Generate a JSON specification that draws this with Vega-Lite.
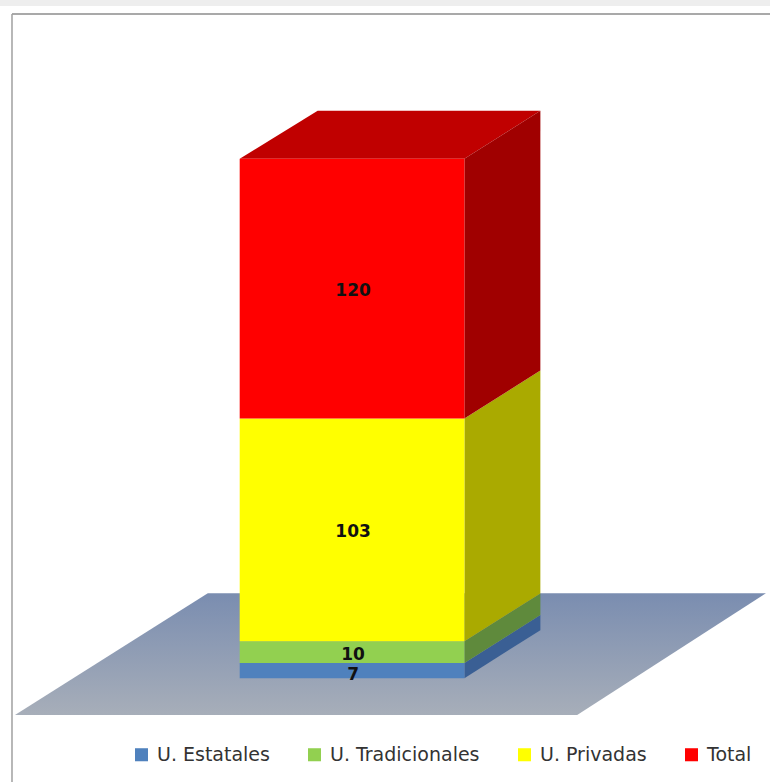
{"$schema":"https://vega.github.io/schema/vega-lite/v6.json","width":771,"height":783,"padding":0,"autosize":{"type":"fit","contains":"padding"},"background":"#ffffff","config":{"view":{"stroke":null}},
"datasets":{
"front":[{"serie":"U. Estatales","valor":7,"base":0,"tope":7,"medio":2.5,"izq":0,"der":1},{"serie":"U. Tradicionales","valor":10,"base":7,"tope":17,"medio":12,"izq":0,"der":1},{"serie":"U. Privadas","valor":103,"base":17,"tope":120,"medio":68.5,"izq":0,"der":1},{"serie":"Total","valor":120,"base":120,"tope":240,"medio":180,"izq":0,"der":1}],
"side":[{"serie":"U. Estatales","h":1,"base":0,"tope":7},{"serie":"U. Estatales","h":1.338,"base":22.15,"tope":29.15},{"serie":"U. Tradicionales","h":1,"base":7,"tope":17},{"serie":"U. Tradicionales","h":1.338,"base":29.15,"tope":39.15},{"serie":"U. Privadas","h":1,"base":17,"tope":120},{"serie":"U. Privadas","h":1.338,"base":39.15,"tope":142.15},{"serie":"Total","h":1,"base":120,"tope":240},{"serie":"Total","h":1.338,"base":142.15,"tope":262.15}],
"top":[{"v":240,"a":0,"b":1},{"v":262.15,"a":0.347,"b":1.338}],
"floor":[{"v":-17,"a":-1,"b":1.502},{"v":39.2,"a":-0.142,"b":2.342}],
"frameTop":[{"a":-1.0133,"b":2.36,"c":306.9}],
"frameLeft":[{"a":-1.0133,"c":-48,"d":306.9}],
"strip":[{"a":-1.0667,"b":2.36,"c":310.6,"d":313.38}]
},
"layer":[
{"data":{"name":"strip"},"mark":{"type":"rect","fill":"#eeeeee"},"encoding":{"x":{"field":"a","type":"quantitative","scale":{"domain":[-1.0667,2.36],"nice":false,"zero":false},"axis":null},"x2":{"field":"b"},"y":{"field":"c","type":"quantitative","scale":{"domain":[-48,313.38],"nice":false,"zero":false},"axis":null},"y2":{"field":"d"}}},
{"data":{"name":"frameTop"},"mark":{"type":"rule","stroke":"#8c8c8c","strokeWidth":1.5},"encoding":{"x":{"field":"a","type":"quantitative","axis":null},"x2":{"field":"b"},"y":{"field":"c","type":"quantitative","axis":null}}},
{"data":{"name":"frameLeft"},"mark":{"type":"rule","stroke":"#a0a0a0","strokeWidth":1.5},"encoding":{"x":{"field":"a","type":"quantitative","axis":null},"y":{"field":"c","type":"quantitative","axis":null},"y2":{"field":"d"}}},
{"data":{"name":"floor"},"mark":{"type":"area","orient":"horizontal","color":{"gradient":"linear","x1":0,"y1":0,"x2":0,"y2":1,"stops":[{"offset":0,"color":"#7a8db0"},{"offset":1,"color":"#a7aeb9"}]}},"encoding":{"y":{"field":"v","type":"quantitative","axis":null},"x":{"field":"a","type":"quantitative","axis":null},"x2":{"field":"b"}}},
{"data":{"name":"top"},"mark":{"type":"area","orient":"horizontal","color":"#c00000"},"encoding":{"y":{"field":"v","type":"quantitative","axis":null},"x":{"field":"a","type":"quantitative","axis":null},"x2":{"field":"b"}}},
{"data":{"name":"side"},"mark":{"type":"area"},"encoding":{"x":{"field":"h","type":"quantitative","axis":null},"y":{"field":"base","type":"quantitative","axis":null},"y2":{"field":"tope"},"color":{"field":"serie","type":"nominal","legend":null,"scale":{"domain":["U. Estatales","U. Tradicionales","U. Privadas","Total"],"range":["#3a5f94","#5f8a3c","#aaaa00","#a00000"]}}}},
{"data":{"name":"front"},"mark":{"type":"bar"},"encoding":{"x":{"field":"izq","type":"quantitative","axis":null},"x2":{"field":"der"},"y":{"field":"base","type":"quantitative","axis":null},"y2":{"field":"tope"},"color":{"field":"serie","type":"nominal","scale":{"domain":["U. Estatales","U. Tradicionales","U. Privadas","Total"],"range":["#4f81bd","#92d050","#ffff00","#ff0000"]},"legend":{"title":null,"orient":"none","legendX":132,"legendY":745,"direction":"horizontal","columns":4,"columnPadding":35,"symbolType":"square","symbolSize":170,"symbolStrokeWidth":0,"labelFont":"DejaVu Sans","labelFontSize":19,"labelColor":"#333333","labelOffset":6,"labelLimit":300}}}},
{"data":{"name":"front"},"mark":{"type":"text","font":"DejaVu Sans","fontWeight":"bold","fontSize":17,"color":"#111111","dx":1,"dy":2.5},"encoding":{"x":{"datum":0.5,"type":"quantitative","axis":null},"y":{"field":"medio","type":"quantitative","axis":null},"text":{"field":"valor","type":"quantitative"}}}
],
"resolve":{"scale":{"color":"independent"}}}
